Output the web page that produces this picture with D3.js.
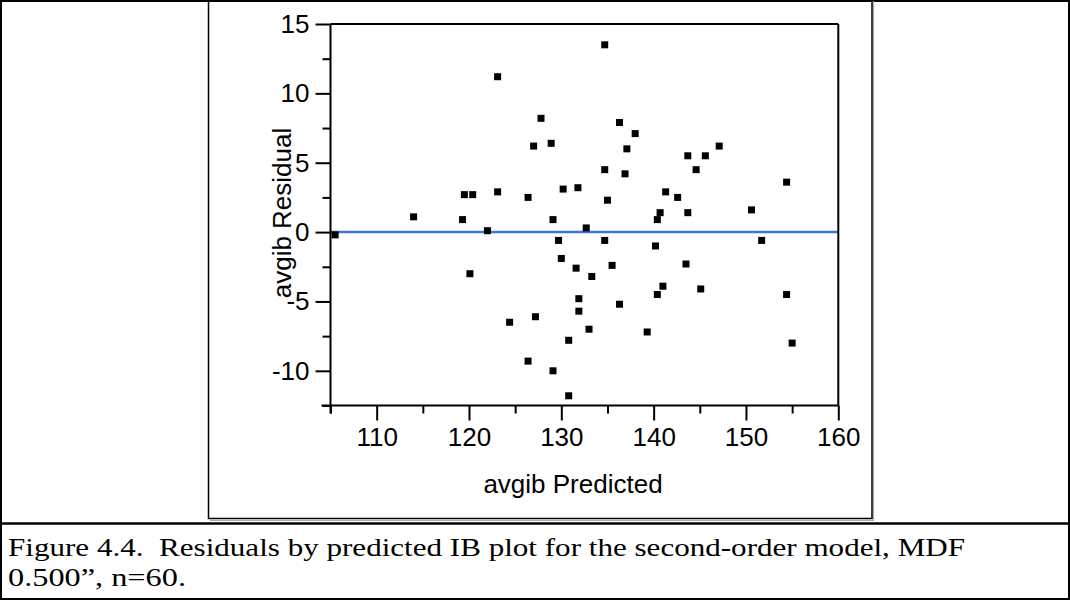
<!DOCTYPE html>
<html>
<head>
<meta charset="utf-8">
<script src="https://cdn.jsdelivr.net/npm/d3@7/dist/d3.min.js"></script>
<style>
  html, body { margin: 0; padding: 0; background: #fff; }
  svg { display: block; }
</style>
</head>
<body>
<svg id="chart" width="1070" height="600"></svg>
<script>
// ---- data ----
const predicted = [
  105.5, 114.0, 119.3, 119.5, 120.4, 120.1, 122.0, 123.1, 123.1, 126.4,
  124.4, 126.4, 127.0, 127.2, 127.8, 128.9, 129.1, 129.1, 130.2, 129.7,
  130.0, 130.8, 130.8, 131.8, 131.6, 131.9, 131.9, 132.7, 133.0, 133.3,
  134.7, 134.7, 134.7, 135.0, 135.5, 136.3, 136.3, 137.1, 136.9, 138.0,
  139.3, 140.2, 140.4, 140.4, 140.7, 141.0, 141.3, 142.6, 143.5, 143.7,
  143.7, 144.6, 145.1, 145.6, 147.1, 150.6, 151.7, 154.4, 154.4, 155.0
];
const residual = [
  -0.2, 1.1, 0.9, 2.7, 2.7, -3.0, 0.1, 2.9, 11.2, 2.5,
  -6.5, -9.3, 6.2, -6.1, 8.2, 6.4, 0.9, -10.0, 3.1, -0.6,
  -1.9, -7.8, -11.8, 3.2, -2.6, -4.8, -5.7, 0.3, -7.0, -3.2,
  13.5, 4.5, -0.6, 2.3, -2.4, 7.9, -5.2, 6.0, 4.2, 7.1,
  -7.2, -1.0, -4.5, 0.9, 1.4, -3.9, 2.9, 2.5, -2.3, 5.5,
  1.4, 4.5, -4.1, 5.5, 6.2, 1.6, -0.6, 3.6, -4.5, -8.0
];
const xMajorTicks = [110, 120, 130, 140, 150, 160];
const xMinorTicks = [105, 115, 125, 135, 145, 155];
const yMajorTicks = [-10, -5, 0, 5, 10, 15];
const yMinorTicks = [-12.5, -7.5, -2.5, 2.5, 7.5, 12.5];
const xTitle = "avgib Predicted";
const yTitle = "avgib Residual";
const captionLines = [
  "Figure 4.4.  Residuals by predicted IB plot for the second-order model, MDF",
  "0.500\u201d, n=60."
];

// ---- layout ----
const svg = d3.select("#chart");
const W = 1070, H = 600;
const plot = { left: 330.5, right: 838.3, top: 24, bottom: 405.5 };

const x = d3.scaleLinear().domain([105, 160]).range([plot.left, plot.right]);
const y = d3.scaleLinear().domain([-12.5, 15]).range([plot.bottom, plot.top]);

// page frame (table-like)
svg.append("rect").attr("x", 1).attr("y", 1).attr("width", W - 2).attr("height", H - 2)
  .attr("fill", "none").attr("stroke", "#000").attr("stroke-width", 2);
svg.append("line").attr("x1", 0).attr("x2", W).attr("y1", 523.5).attr("y2", 523.5)
  .attr("stroke", "#000").attr("stroke-width", 2.5);

// inner image box with slight shadow
svg.append("path")
  .attr("d", `M${210},${520.5} H${873.5} V${1}`)
  .attr("fill", "none").attr("stroke", "#aaa").attr("stroke-width", 1.2);
svg.append("rect").attr("x", 208.5).attr("y", 0).attr("width", 663.5).attr("height", 518.5)
  .attr("fill", "none").attr("stroke", "#000").attr("stroke-width", 1.5);

const fontSans = '"Liberation Sans", Arial, sans-serif';

// zero reference line
svg.append("line")
  .attr("x1", x(105)).attr("x2", x(160))
  .attr("y1", y(0)).attr("y2", y(0))
  .attr("stroke", "#3b78d8").attr("stroke-width", 2.5);

// frame top & right
svg.append("line").attr("x1", plot.left).attr("x2", plot.right)
  .attr("y1", plot.top).attr("y2", plot.top).attr("stroke", "#000").attr("stroke-width", 2);
svg.append("line").attr("x1", plot.right).attr("x2", plot.right)
  .attr("y1", plot.top).attr("y2", plot.bottom).attr("stroke", "#000").attr("stroke-width", 2);

// axes
function styleAxis(g) {
  g.selectAll("line").attr("stroke", "#000").attr("stroke-width", 2);
  g.selectAll("path.domain").remove();
  g.selectAll("text").attr("fill", "#000").attr("font-size", 26).attr("font-family", fontSans);
}
const plainFmt = d => String(d);

const gx = svg.append("g").attr("transform", `translate(0,${plot.bottom})`);
gx.append("g").call(d3.axisBottom(x).tickValues(xMajorTicks).tickSize(15).tickPadding(7).tickFormat(plainFmt)).call(styleAxis);
gx.append("g").call(d3.axisBottom(x).tickValues(xMinorTicks).tickSize(8).tickFormat("")).call(styleAxis);
gx.append("line").attr("x1", plot.left - 9).attr("x2", plot.right).attr("y1", 0).attr("y2", 0)
  .attr("stroke", "#000").attr("stroke-width", 2);

const gy = svg.append("g").attr("transform", `translate(${plot.left},0)`);
gy.append("g").call(d3.axisLeft(y).tickValues(yMajorTicks).tickSize(15).tickPadding(6).tickFormat(plainFmt)).call(styleAxis);
gy.append("g").call(d3.axisLeft(y).tickValues(yMinorTicks).tickSize(8).tickFormat("")).call(styleAxis);
gy.append("line").attr("x1", 0).attr("x2", 0).attr("y1", plot.top).attr("y2", plot.bottom + 8)
  .attr("stroke", "#000").attr("stroke-width", 2);

// points
const pts = predicted.map((p, i) => ({ p, r: residual[i] }));
const s = 7;
svg.append("g").selectAll("rect").data(pts).join("rect")
  .attr("x", d => x(d.p) - s / 2)
  .attr("y", d => y(d.r) - s / 2)
  .attr("width", s).attr("height", s)
  .attr("fill", "#000");

// axis titles
svg.append("text").text(xTitle)
  .attr("x", 573).attr("y", 493)
  .attr("text-anchor", "middle").attr("font-family", fontSans).attr("font-size", 26);
svg.append("text").text(yTitle)
  .attr("transform", `translate(291,213) rotate(-90)`)
  .attr("text-anchor", "middle").attr("font-family", fontSans).attr("font-size", 26);

// caption
const capWidths = [957, 178];
const capY = [556, 586];
captionLines.forEach((t, i) => {
  svg.append("text").text(t)
    .attr("x", 8).attr("y", capY[i])
    .attr("font-family", '"Liberation Serif", "Times New Roman", serif')
    .attr("font-size", 25)
    .style("white-space", "pre")
    .attr("textLength", capWidths[i])
    .attr("lengthAdjust", "spacingAndGlyphs");
});
</script>
</body>
</html>
